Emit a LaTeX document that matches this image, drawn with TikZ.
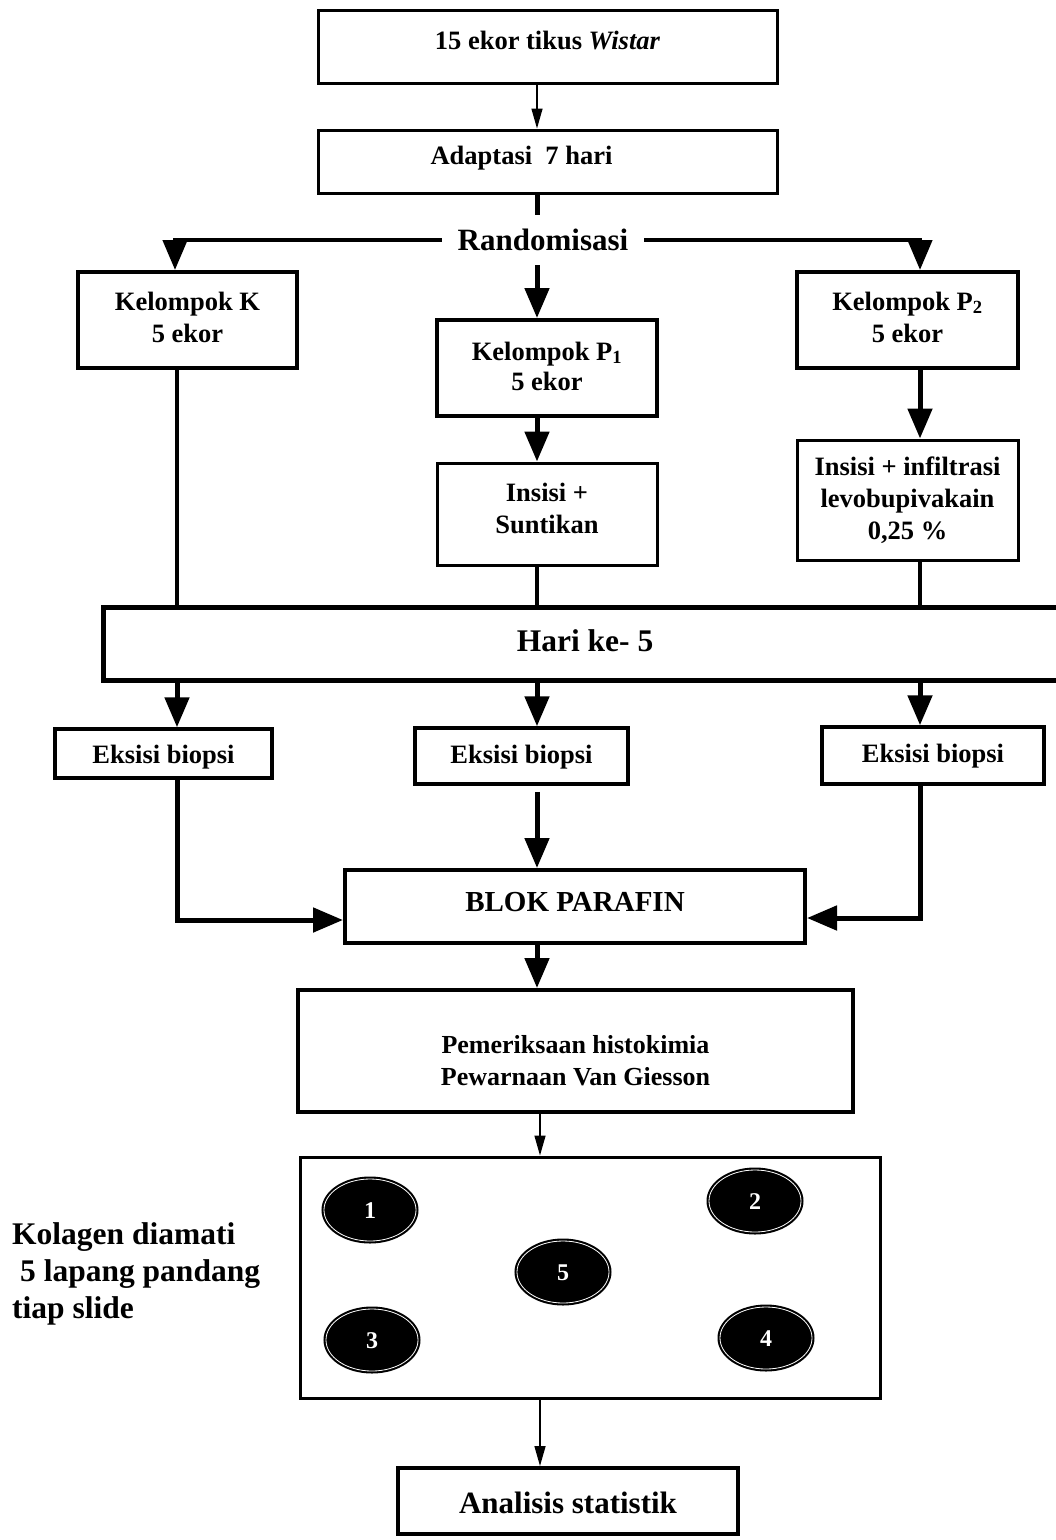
\documentclass[tikz,border=0pt]{standalone}
\usepackage{fontspec}
\setmainfont{Liberation Serif}
\usetikzlibrary{arrows.meta,shapes.geometric,calc}
\newcommand{\shiftt}[2]{\raisebox{#1}[\height][\depth]{#2}}
\begin{document}
\begin{tikzpicture}[x=1pt,y=-1pt,
  box/.style={draw, line width=3pt, inner sep=0pt, align=center,
    font=\bfseries\fontsize{26.5}{32}\selectfont},
  hbox/.style={box, line width=4pt},
  tarrow/.style={line width=5pt, -{Triangle[width=24pt,length=30pt]}},
  tline/.style={line width=5pt},
  narrow/.style={line width=1.5pt, -{Triangle[width=11pt,length=20pt]}},
  oval/.style={ellipse, fill=black, draw=white, line width=0.8pt,
    preaction={draw=black, line width=5pt},
    minimum width=92pt, minimum height=62pt, inner sep=0pt,
    text height=16pt, text depth=0pt,
    text=white, font=\bfseries\fontsize{24}{24}\selectfont}
]
\useasboundingbox[fill=white] (0,0) rectangle (1056,1540);

% column coordinates
\coordinate (cL) at (177,0);
\coordinate (cKL) at (175,0);
\coordinate (cM) at (537,0);
\coordinate (cM2) at (540,0);
\coordinate (cR) at (920,0);
\coordinate (rowJL) at (0,920);
\coordinate (rowJR) at (0,918);

% nodes
\node[box, minimum width=459pt, minimum height=73pt] (top) at (547.5,46.5)
  {\shiftt{6pt}{15 ekor tikus \textit{Wistar}}};
\node[box, minimum width=459pt, minimum height=63pt] (adapt) at (547.5,161.5)
  {\shiftt{3pt}{Adaptasi\ \ 7 hari}\hspace*{52pt}};
\node[inner xsep=16pt, inner ysep=0pt, minimum height=50pt,
  font=\bfseries\fontsize{31}{31}\selectfont] (rand) at (543,240) {Randomisasi};

\node[hbox, minimum width=219pt, minimum height=96pt] (K) at (187.5,320)
  {\shiftt{3pt}{\parbox{200pt}{\centering Kelompok K\\5 ekor}}};
\node[hbox, minimum width=220pt, minimum height=96pt] (P1) at (547,368)
  {\shiftt{2pt}{\parbox{200pt}{\centering Kelompok P\textsubscript{1}\\[-2pt]5 ekor}}};
\node[hbox, minimum width=221pt, minimum height=96pt] (P2) at (907.5,320)
  {\shiftt{3pt}{\parbox{200pt}{\centering Kelompok P\textsubscript{2}\\5 ekor}}};

\node[box, minimum width=220pt, minimum height=102pt] (ins1) at (547,514)
  {\shiftt{6pt}{\parbox{200pt}{\centering Insisi +\\Suntikan}}};
\node[box, minimum width=221pt, minimum height=120pt] (ins2) at (907.5,500)
  {Insisi + infiltrasi\\levobupivakain\\0,25 \%};

\node[draw, line width=5pt, minimum width=972pt, minimum height=73pt, inner sep=0pt] (hari) at (589,643.5) {};
\node[font=\bfseries\fontsize{31.5}{31.5}\selectfont] (haritext) at (585,641) {Hari ke- 5};

\node[box, line width=3.5pt, minimum width=217pt, minimum height=49pt] (eL) at (163.5,753.5)
  {\shiftt{-4pt}{Eksisi biopsi}};
\node[box, line width=3.5pt, minimum width=213pt, minimum height=56pt] (eM) at (521.5,756)
  {\shiftt{-1.5pt}{Eksisi biopsi}};
\node[box, line width=3.5pt, minimum width=222pt, minimum height=57pt] (eR) at (933,755.5)
  {\shiftt{-1pt}{Eksisi biopsi}};

\node[hbox, minimum width=460pt, minimum height=73pt,
  font=\bfseries\fontsize{29}{29}\selectfont] (blok) at (575,906.5)
  {\shiftt{4.5pt}{BLOK PARAFIN}};

\node[hbox, minimum width=555pt, minimum height=122pt] (pem) at (575.5,1051)
  {\shiftt{-10pt}{\parbox{500pt}{\centering\fontsize{26}{32}\selectfont Pemeriksaan histokimia\\Pewarnaan Van Giesson}}};

\node[draw, line width=3pt, minimum width=580pt, minimum height=241pt, inner sep=0pt] (slide) at (590,1277.5) {};
\node[oval] (o1) at (370,1210) {1};
\node[oval] (o2) at (755,1201) {2};
\node[oval] (o5) at (563,1272) {5};
\node[oval] (o3) at (372,1340) {3};
\node[oval] (o4) at (766,1338) {4};

\node[anchor=west, align=left, inner sep=0pt,
  font=\bfseries\fontsize{31.5}{37}\selectfont] (kol) at (12,1274)
  {Kolagen diamati\\\hspace*{8pt}5 lapang pandang\\tiap slide};

\node[hbox, minimum width=340pt, minimum height=66pt,
  font=\bfseries\fontsize{31}{31}\selectfont] (ana) at (568,1501)
  {\shiftt{-1.5pt}{Analisis statistik}};

% connectors
\draw[narrow] (top.south -| cM) -- (adapt.north -| cM);
\draw[tline] (adapt.south -| cM) -- (rand.north -| cM);
\draw[tarrow, line width=4.5pt] (rand.west) -| (K.north -| cKL);
\draw[tarrow, line width=4.5pt] (rand.east) -| (P2.north -| cR);
\draw[tarrow] (rand.south -| cM) -- (P1.north -| cM);

\draw[tarrow] (P1.south -| cM) -- (ins1.north -| cM);
\draw[tarrow] (P2.south -| cR) -- (ins2.north -| cR);

\draw[line width=4pt] (K.south -| cL) -- (hari.north -| cL);
\draw[line width=4pt] (ins1.south -| cM) -- (hari.north -| cM);
\draw[line width=4pt] (ins2.south -| cR) -- (hari.north -| cR);

\draw[tarrow] (hari.south -| cL) -- (eL.north -| cL);
\draw[tarrow] (hari.south -| cM) -- (eM.north -| cM);
\draw[tarrow] (hari.south -| cR) -- (eR.north -| cR);

\draw[tarrow] (eL.south -| cL) |- (blok.west |- rowJL);
\draw[tarrow, shorten <=6pt] (eM.south -| cM) -- (blok.north -| cM);
\draw[tarrow] (eR.south -| cR) |- (blok.east |- rowJR);

\draw[tarrow] (blok.south -| cM) -- (pem.north -| cM);
\draw[narrow] (pem.south -| cM2) -- (slide.north -| cM2);
\draw[narrow] (slide.south -| cM2) -- (ana.north -| cM2);
\end{tikzpicture}
\end{document}
